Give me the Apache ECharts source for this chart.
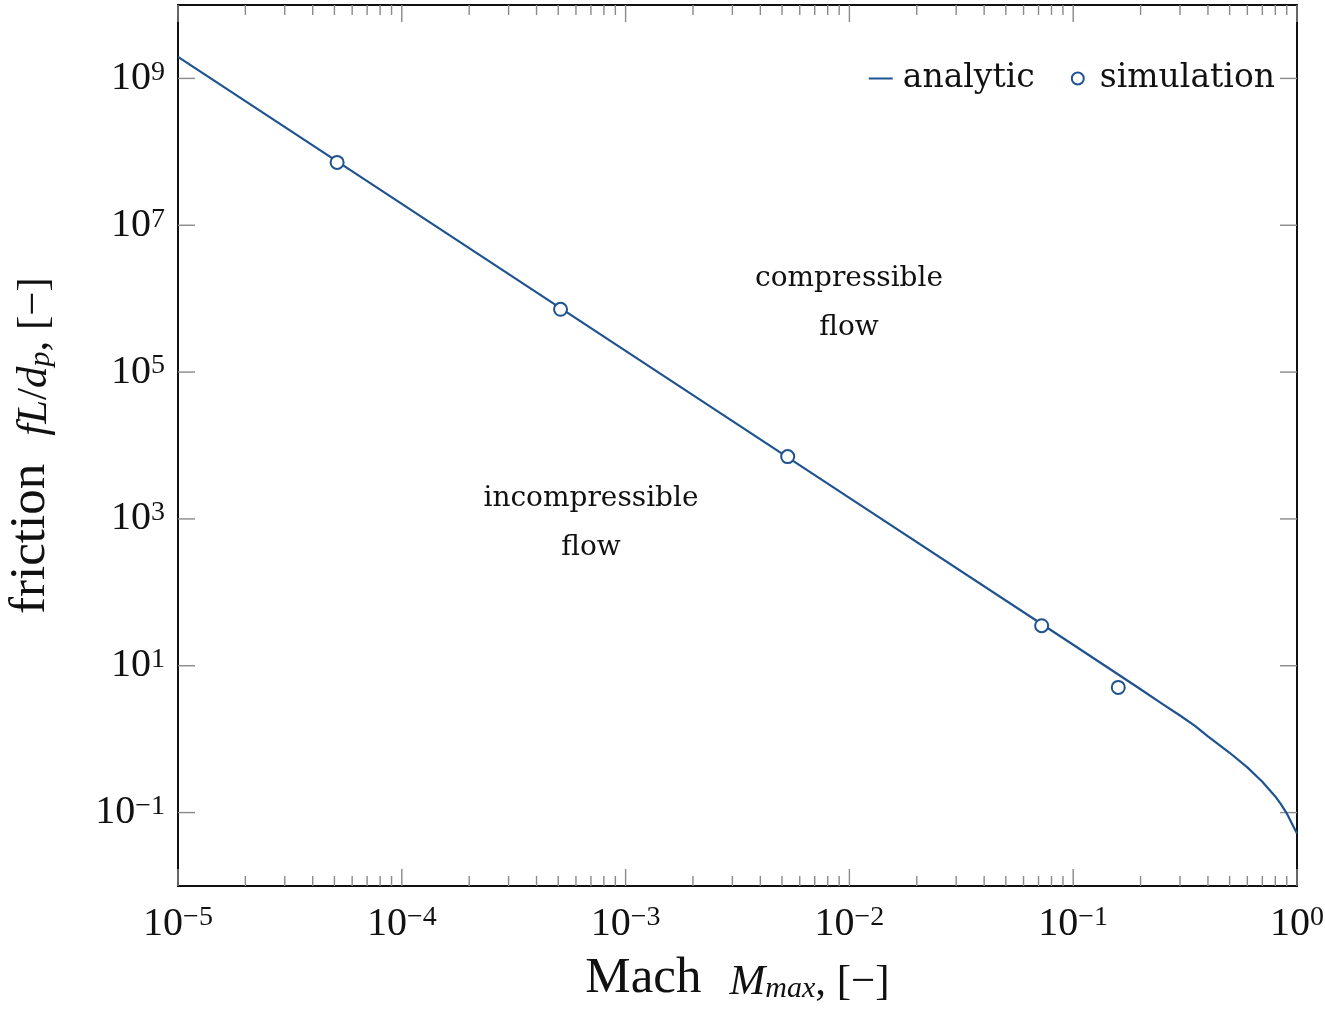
<!DOCTYPE html>
<html>
<head>
<meta charset="utf-8">
<script src="https://cdn.jsdelivr.net/npm/echarts@6/dist/echarts.min.js"></script>
<style>
html,body{margin:0;padding:0;background:#fff;}
#chart{width:1325px;height:1009px;}
</style>
</head>
<body>
<div id="chart"></div>
<script>
// ---- data ----
const analyticMach = [1e-5, 1e-4, 1e-3, 1e-2, 0.1, 0.2, 0.25, 0.3, 0.35, 0.4, 0.5, 0.6, 0.7, 0.8, 0.85, 0.9, 0.95, 1.0];
const analyticFriction = [1.97e9, 1.955e7, 1.94e5, 1.93e3, 19.3, 4.79, 3.03, 2.10, 1.52, 1.09, 0.653, 0.413, 0.263, 0.166, 0.128, 0.0977, 0.0706, 0.0518];
const simMach = [5.14e-5, 5.12e-4, 5.30e-3, 0.0723, 0.159];
const simFriction = [7.18e7, 7.17e5, 7.06e3, 35.1, 5.07];
const xDecades = [1e-5, 1e-4, 1e-3, 1e-2, 1e-1, 1];
const yLabelled = [1e-1, 1e1, 1e3, 1e5, 1e7, 1e9];
const xRange = [1e-5, 1];
const yRange = [1e-2, 1e10];
const annotations = [
  {lines: ['compressible', 'flow'], at: [849, 279]},
  {lines: ['incompressible', 'flow'], at: [591, 499]}
];

const BLUE = '#1f5390';
const TICK = '#8a8a8a';
const INK = '#111';

// minor x tick positions (2..9 within each decade)
const xMinor = [];
for (let i = 0; i < xDecades.length - 1; i++) {
  for (let k = 2; k <= 9; k++) xMinor.push(xDecades[i] * k);
}

function expOf(v) { return Math.round(Math.log10(v)); }
function supText(e) { return String(e).replace('-', '\u2212'); }

const tickData = [];
xDecades.forEach(v => tickData.push([v, 1, 0, 17]));
xMinor.forEach(v => tickData.push([v, 1, 0, 10]));
yLabelled.forEach(v => tickData.push([1e-2, v, 1, 17]));

const chart = echarts.init(document.getElementById('chart'));

const graphics = [];
annotations.forEach(a => {
  a.lines.forEach((t, i) => {
    graphics.push({
      type: 'text', x: a.at[0], y: a.at[1] + i * 49,
      style: {text: t, font: '28px "DejaVu Serif"', fill: INK, align: 'center', verticalAlign: 'middle'}
    });
  });
});

const labelRich = {
  b: {fontFamily: 'Liberation Serif', fontSize: 40, color: INK, lineHeight: 40, verticalAlign: 'bottom'},
  s: {fontFamily: 'Liberation Serif', fontSize: 28, color: INK, lineHeight: 30, verticalAlign: 'top'}
};
const nameRich = {
  b: {fontFamily: 'Liberation Serif', fontSize: 51, color: INK, lineHeight: 52, verticalAlign: 'bottom'},
  g: {fontSize: 20, width: 28, lineHeight: 52},
  i: {fontFamily: 'Liberation Serif', fontStyle: 'italic', fontSize: 43, color: INK, lineHeight: 48, verticalAlign: 'bottom'},
  sub: {fontFamily: 'Liberation Serif', fontStyle: 'italic', fontSize: 30, color: INK, lineHeight: 38, verticalAlign: 'bottom'},
  r: {fontFamily: 'Liberation Serif', fontSize: 43, color: INK, lineHeight: 48, verticalAlign: 'bottom'}
};

const option = {
  animation: false,
  backgroundColor: '#fff',
  grid: {left: 178, right: 28, top: 5, bottom: 123, outerBoundsMode: 'none', containLabel: false,
         show: true, borderColor: INK, borderWidth: 2, backgroundColor: 'transparent'},
  legend: {
    right: 50, top: 62, itemGap: 36, itemWidth: 24, itemHeight: 12, padding: 0,
    textStyle: {fontFamily: 'DejaVu Serif', fontSize: 33, color: INK, padding: [0, 0, 0, 5]},
    data: [
      {name: 'analytic', icon: 'path://M0,0h24v2h-24z'},
      {name: 'simulation'}
    ]
  },
  xAxis: {
    type: 'log', logBase: 10, min: xRange[0], max: xRange[1], splitNumber: 5, interval: 1,
    axisLine: {show: false}, axisTick: {show: false}, splitLine: {show: false}, minorTick: {show: false},
    axisLabel: {
      margin: 18,
      formatter: v => '{b|10}{s|' + supText(expOf(v)) + '}',
      rich: labelRich
    },
    name: '{b|Mach}{g|}{i|M}{sub|max}{r|, [\u2212]}',
    nameLocation: 'middle', nameGap: 66,
    nameTextStyle: {rich: nameRich}
  },
  yAxis: {
    type: 'log', logBase: 10, min: yRange[0], max: yRange[1], splitNumber: 12, interval: 1,
    axisLine: {show: false}, axisTick: {show: false}, splitLine: {show: false}, minorTick: {show: false},
    axisLabel: {
      margin: 13,
      formatter: v => {
        const e = expOf(v);
        if (Math.abs(e) % 2 !== 1) return '';
        return '{b|10}{s|' + supText(e) + '}';
      },
      rich: labelRich
    },
    name: '{b|friction}{g|}{i|fL}{r|/}{i|d}{sub|p}{r|, [\u2212]}',
    nameLocation: 'middle', nameGap: 122,
    nameTextStyle: {rich: nameRich}
  },
  graphic: graphics,
  series: [
    {
      name: 'ticks', type: 'custom', silent: true, legendHoverLink: false,
      encode: {x: 0, y: 1}, clip: false, z: 1,
      data: tickData,
      renderItem: function (params, api) {
        const isY = api.value(2) === 1;
        const len = api.value(3);
        const style = {stroke: TICK, lineWidth: 1.4};
        if (!isY) {
          const v = api.value(0);
          const b = api.coord([v, yRange[0]]);
          const t = api.coord([v, yRange[1]]);
          return {type: 'group', children: [
            {type: 'line', shape: {x1: b[0], y1: b[1], x2: b[0], y2: b[1] - len}, style: style},
            {type: 'line', shape: {x1: t[0], y1: t[1], x2: t[0], y2: t[1] + len}, style: style}
          ]};
        } else {
          const v = api.value(1);
          const l = api.coord([xRange[0], v]);
          const r = api.coord([xRange[1], v]);
          return {type: 'group', children: [
            {type: 'line', shape: {x1: l[0], y1: l[1], x2: l[0] + len, y2: l[1]}, style: style},
            {type: 'line', shape: {x1: r[0], y1: r[1], x2: r[0] - len, y2: r[1]}, style: style}
          ]};
        }
      }
    },
    {
      name: 'analytic', type: 'line', symbol: 'none', smooth: false,
      lineStyle: {color: BLUE, width: 2.2, join: 'round'}, itemStyle: {color: BLUE}, z: 3,
      data: analyticMach.map((m, i) => [m, analyticFriction[i]])
    },
    {
      name: 'simulation', type: 'scatter', symbol: 'emptyCircle', symbolSize: 13,
      itemStyle: {color: BLUE, borderColor: BLUE, borderWidth: 2.2, opacity: 1}, z: 4,
      data: simMach.map((m, i) => [m, simFriction[i]])
    }
  ]
};
chart.setOption(option);
</script>
</body>
</html>
